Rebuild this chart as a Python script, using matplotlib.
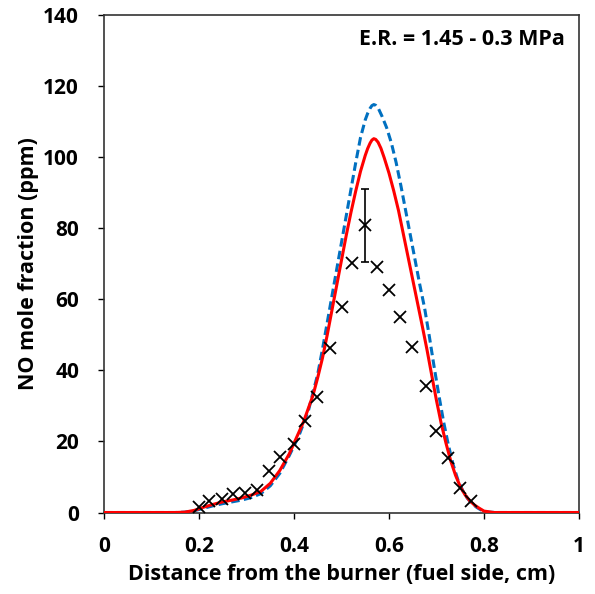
import matplotlib
matplotlib.use("Agg")
import matplotlib.pyplot as plt

# Experimental data (x marks)
exp_x = [0.200, 0.222, 0.248, 0.272, 0.297, 0.323, 0.348, 0.371, 0.399, 0.423,
         0.448, 0.476, 0.500, 0.523, 0.549, 0.575, 0.600, 0.623, 0.649, 0.677,
         0.700, 0.725, 0.749, 0.773]
exp_y = [1.5, 3.2, 3.7, 5.2, 5.4, 6.3, 11.7, 15.7, 19.2, 25.8,
         32.6, 46.2, 57.9, 70.2, 80.8, 69.1, 62.5, 55.0, 46.6, 35.6,
         22.9, 15.4, 7.0, 3.3]
err_x = [0.549]
err_y = [80.8]
err_val = [10.3]

# Model 1 (red solid)
red_x = [0.00, 0.15, 0.17, 0.19, 0.21, 0.23, 0.25, 0.27, 0.29, 0.31, 0.33, 0.35,
         0.37, 0.39, 0.40, 0.42, 0.44, 0.45, 0.46, 0.47, 0.48, 0.49, 0.50, 0.51,
         0.52, 0.53, 0.54, 0.55, 0.555, 0.56, 0.564, 0.568, 0.572, 0.577, 0.583,
         0.59, 0.60, 0.61, 0.62, 0.63, 0.64, 0.65, 0.66, 0.67, 0.68, 0.69, 0.70,
         0.71, 0.72, 0.73, 0.74, 0.75, 0.76, 0.77, 0.78, 0.79, 0.80, 0.82, 1.00]
red_y = [0, 0, 0.1, 0.6, 1.5, 2.3, 3.0, 3.5, 4.1, 4.9, 5.9, 8.2,
         11.8, 16.5, 19.5, 25.5, 33, 38, 43.5, 50, 57, 64, 71, 78,
         84.5, 90.5, 96, 100.5, 102.4, 103.9, 104.8, 105.2, 105.0, 104.2, 102.5,
         99.8, 95.5, 90.5, 85, 78.5, 72, 65.5, 59, 52.5, 45.8, 38.6, 31.5,
         25, 19.5, 14.5, 10.5, 7.3, 5.0, 3.3, 2.1, 1.2, 0.4, 0, 0]

# Model 2 (blue dashed)
blue_x = [0.00, 0.15, 0.17, 0.19, 0.21, 0.23, 0.25, 0.27, 0.29, 0.31, 0.33, 0.35,
          0.37, 0.39, 0.41, 0.43, 0.45, 0.46, 0.47, 0.48, 0.49, 0.50, 0.51, 0.52,
          0.53, 0.54, 0.55, 0.555, 0.56, 0.564, 0.568, 0.572, 0.578, 0.585, 0.595,
          0.605, 0.615, 0.625, 0.635, 0.645, 0.655, 0.665, 0.675, 0.685, 0.695,
          0.705, 0.715, 0.725, 0.735, 0.745, 0.755, 0.765, 0.775, 0.785, 0.795,
          0.81, 0.83, 1.00]
blue_y = [0, 0, 0.1, 0.5, 1.2, 1.9, 2.5, 3.0, 3.5, 4.2, 5.3, 7.5,
          11, 16, 21.5, 28.5, 39, 46, 53.5, 61, 68.5, 76, 83.5, 91,
          98.5, 105.5, 110.5, 112.3, 113.7, 114.5, 114.8, 114.6, 113.6, 111.6, 108.3,
          104, 98.5, 92, 85, 78, 71, 64, 57.5, 49.5, 41,
          33, 25.5, 19, 13.5, 9.2, 6.2, 4.0, 2.5, 1.4, 0.6,
          0.1, 0, 0]

x_ticks = [0, 0.2, 0.4, 0.6, 0.8, 1]
x_labels = ["0", "0.2", "0.4", "0.6", "0.8", "1"]
y_ticks = [0, 20, 40, 60, 80, 100, 120, 140]

plt.rcParams['font.family'] = ['Open Sans', 'DejaVu Sans']
plt.rcParams['font.weight'] = 'bold'

fig = plt.figure(figsize=(5.95, 5.94), dpi=100)
ax = fig.add_axes([0.1748, 0.1372, 0.7983, 0.8375])

ax.plot(blue_x, blue_y, color='#0070C0', lw=2.2, ls=(0, (2.8, 1.4)), zorder=2)
ax.plot(red_x, red_y, color='#FF0000', lw=2.2, zorder=3)
ax.plot(exp_x, exp_y, ls='none', marker='x', color='black', ms=9, mew=1.3, zorder=4)
ax.errorbar(err_x, err_y, yerr=err_val, fmt='none', ecolor='black', elinewidth=1.2,
            capsize=3, capthick=1.2, zorder=4)

ax.set_xlim(0, 1)
ax.set_ylim(0, 140)
ax.set_xticks(x_ticks)
ax.set_xticklabels(x_labels)
ax.set_yticks(y_ticks)
ax.tick_params(direction='out', length=4, width=1, labelsize=15, colors='black')
ax.tick_params(axis='x', pad=13)
ax.tick_params(axis='y', pad=14)
for lab in ax.get_xticklabels() + ax.get_yticklabels():
    lab.set_fontweight('bold')
for s in ax.spines.values():
    s.set_color('#333333')
    s.set_linewidth(1.2)

ax.set_xlabel("Distance from the burner (fuel side, cm)", fontsize=15.5, fontweight='bold', labelpad=5)
ax.set_ylabel("NO mole fraction (ppm)", fontsize=15.5, fontweight='bold', labelpad=3)

ax.text(0.9705, 0.95, "E.R. = 1.45 - 0.3 MPa", transform=ax.transAxes, ha='right', va='center',
        fontsize=15.5, fontweight='bold')

fig.savefig("out.png", dpi=100)
